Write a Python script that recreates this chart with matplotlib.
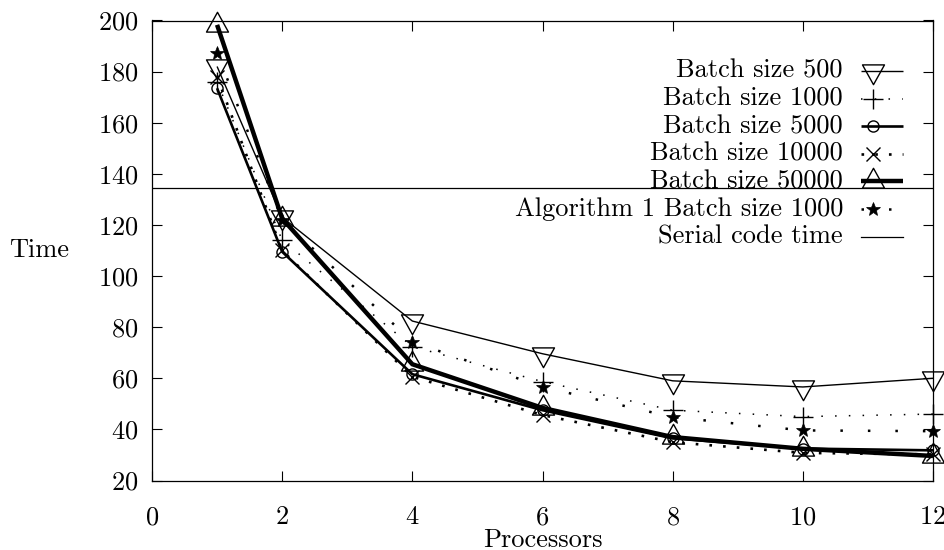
import matplotlib
matplotlib.use("Agg")
import matplotlib.pyplot as plt
from matplotlib.lines import Line2D
from matplotlib.path import Path
import numpy as np

plt.rcParams['font.family'] = ['cmr10', 'DejaVu Serif']
plt.rcParams['mathtext.fontset'] = 'cm'
plt.rcParams['axes.formatter.use_mathtext'] = True

# ---- data ----
processors = [1, 2, 4, 6, 8, 10, 12]
batch_500 = [182, 123, 82.4, 69.6, 59.0, 56.6, 60.0]
batch_1000 = [176, 114, 72.4, 58.7, 47.5, 45.0, 46.0]
batch_5000 = [173.5, 109.5, 61.6, 47.5, 36.5, 32.5, 31.8]
batch_10000 = [178, 110, 60.6, 45.6, 35.0, 30.8, 30.2]
batch_50000 = [198.3, 122.5, 65.5, 48.4, 37.0, 32.4, 29.6]
algorithm1_1000 = [187.4, 122, 74.3, 56.6, 44.8, 39.6, 39.3]
serial_time = 134.3

labels = ["Batch size 500", "Batch size 1000", "Batch size 5000",
          "Batch size 10000", "Batch size 50000",
          "Algorithm 1 Batch size 1000", "Serial code time"]

x_ticks = [0, 2, 4, 6, 8, 10, 12]
y_ticks = [20, 40, 60, 80, 100, 120, 140, 160, 180, 200]

FS = 19

# gnuplot-like triangles (data point at centroid)
tri_down = Path([(-1, 0.6), (1, 0.6), (0, -1.2), (-1, 0.6)],
                [Path.MOVETO, Path.LINETO, Path.LINETO, Path.CLOSEPOLY])
tri_up = Path([(-1, -0.6), (1, -0.6), (0, 1.2), (-1, -0.6)],
              [Path.MOVETO, Path.LINETO, Path.LINETO, Path.CLOSEPOLY])

series = [batch_500, batch_1000, batch_5000, batch_10000, batch_50000, algorithm1_1000]
styles = [
    dict(marker=tri_down, ms=19, mfc='none', mew=1.0, lw=1.0, ls='-'),
    dict(marker='+', ms=15, mew=1.0, lw=1.1, ls=(0, (1, 8))),
    dict(marker='o', ms=8, mfc='none', mew=1.0, lw=1.9, ls='-'),
    dict(marker='x', ms=10, mew=1.0, lw=1.9, ls=(0, (1, 4.2))),
    dict(marker=tri_up, ms=19, mfc='none', mew=1.0, lw=3.2, ls='-'),
    dict(marker='*', ms=10, mfc='black', mew=0.5, lw=1.8, ls=(0, (1, 10))),
]

W, H = 944, 550
fig = plt.figure(figsize=(W / 100, H / 100), dpi=100)
ax = fig.add_axes([152 / W, 1 - 480.5 / H, 781 / W, 460 / H])

for vals, st in zip(series, styles):
    ax.plot(processors, vals, color='black', solid_capstyle='butt',
            dash_capstyle='butt', solid_joinstyle='miter', clip_on=False, **st)

ax.axhline(serial_time, color='black', lw=0.9)

ax.set_xlim(0, 12)
ax.set_ylim(20, 200)
ax.set_xticks(x_ticks)
ax.set_yticks(y_ticks)
ax.tick_params(direction='in', length=7.5, width=0.8, top=True, right=True,
               labelsize=FS, color='black')
ax.tick_params(axis='y', pad=10)
ax.tick_params(axis='x', pad=18)
for sp in ax.spines.values():
    sp.set_linewidth(0.9)

ax.set_xlabel("Processors", fontsize=FS, labelpad=-1)
ax.set_ylabel("Time", fontsize=FS, rotation=0, va='center', ha='center')
ax.yaxis.set_label_coords(-0.145, 0.5)

# ---- manual gnuplot-style key ----
row0, dy = 71, 27.6
text_x = 843 / W
line_x = [861 / W, 903 / W]
mark_x = 873 / W
for i, lab in enumerate(labels):
    yp = 1 - (row0 + dy * i) / H
    fig.text(text_x, yp, lab, ha='right', va='center', fontsize=FS)
    if i < len(styles):
        st = dict(styles[i])
        mk = st.pop('marker'); ms = st.pop('ms')
        mfc = st.pop('mfc', 'black'); mew = st.pop('mew')
        fig.add_artist(Line2D(line_x, [yp, yp], transform=fig.transFigure,
                              color='black', dash_capstyle='butt',
                              solid_capstyle='butt', **st))
        fig.add_artist(Line2D([mark_x], [yp], transform=fig.transFigure,
                              marker=mk, ms=ms, mfc=mfc, mew=mew,
                              color='black', ls='none'))
    else:
        fig.add_artist(Line2D(line_x, [yp, yp], transform=fig.transFigure,
                              color='black', lw=0.9))

fig.savefig("out.png", dpi=100)
